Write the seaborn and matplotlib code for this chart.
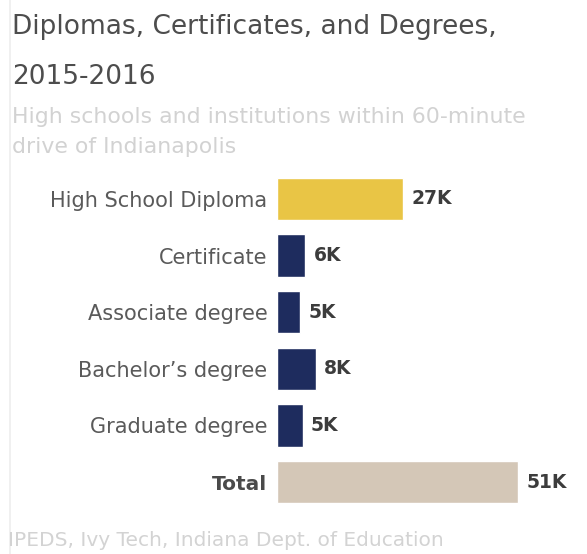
import matplotlib
matplotlib.use("Agg")
import matplotlib.pyplot as plt
from matplotlib.lines import Line2D
import seaborn as sns
import pandas as pd

# Completions by credential type (thousands), 2015-2016
categories = ["High School Diploma", "Certificate", "Associate degree",
              "Bachelor\u2019s degree", "Graduate degree", "Total"]
values_k = [26.7, 6.0, 4.95, 8.2, 5.4, 51.0]
bar_colors = ["#E9C545", "#1E2C5E", "#1E2C5E", "#1E2C5E", "#1E2C5E", "#D4C7B7"]

title_lines = ["Diplomas, Certificates, and Degrees,", "2015-2016"]
subtitle_lines = ["High schools and institutions within 60-minute",
                  "drive of Indianapolis"]
source_text = "IPEDS, Ivy Tech, Indiana Dept. of Education"

df = pd.DataFrame({"category": categories, "value": values_k})

sns.set_theme(style="white")
plt.rcParams["font.family"] = ["DejaVu Sans"]

W, H = 587, 554
fig = plt.figure(figsize=(W / 100, H / 100), dpi=100)
fig.patch.set_facecolor("white")

# axes placed in pixel terms: bars start at x=277, category centres 199..482
left_px, right_px = 277, 562
top_px, bot_px = 170.7, 510.3
px_per_k = 4.725
ax = fig.add_axes([left_px / W, 1 - bot_px / H,
                   (right_px - left_px) / W, (bot_px - top_px) / H])

sns.barplot(data=df, y="category", x="value", hue="category",
            palette=bar_colors, order=categories, hue_order=categories,
            orient="h", width=0.75, legend=False, ax=ax, saturation=1)

ax.set_xlim(0, (right_px - left_px) / px_per_k)
ax.set_ylim(len(categories) - 0.5, -0.5)
ax.set_xlabel("")
ax.set_ylabel("")
ax.set_xticks([])
for s in ax.spines.values():
    s.set_visible(False)
ax.tick_params(axis="y", length=0, pad=7)
ax.set_facecolor("none")
for lbl in ax.get_yticklabels():
    lbl.set_fontsize(15)
    lbl.set_color("#5a5a5a")
    if lbl.get_text() == "Total":
        lbl.set_fontsize(14.5)
        lbl.set_fontweight("bold")
        lbl.set_color("#4a4a4a")

# value labels
for i, v in enumerate(values_k):
    ax.text(v + 8.5 / px_per_k, i, f"{round(v)}K", va="center", ha="left",
            fontsize=13.5, fontweight="bold", color="#3c3c3c")

# titles
def put(y_base, s, size, color, x=12):
    fig.text(x / W, 1 - y_base / H, s, fontsize=size, color=color,
             va="baseline", ha="left")

put(34, title_lines[0], 19, "#4d4d4d")
put(84, title_lines[1], 19, "#4d4d4d")
put(123, subtitle_lines[0], 15.8, "#d2d2d2")
put(153, subtitle_lines[1], 15.8, "#d2d2d2")
put(546, source_text, 14.5, "#d3d3d3", x=8)

# faint left border
fig.add_artist(Line2D([10 / W, 10 / W], [0, 1], color="#eeeeee", lw=1.2))

fig.savefig("out.png", dpi=100, facecolor="white")
